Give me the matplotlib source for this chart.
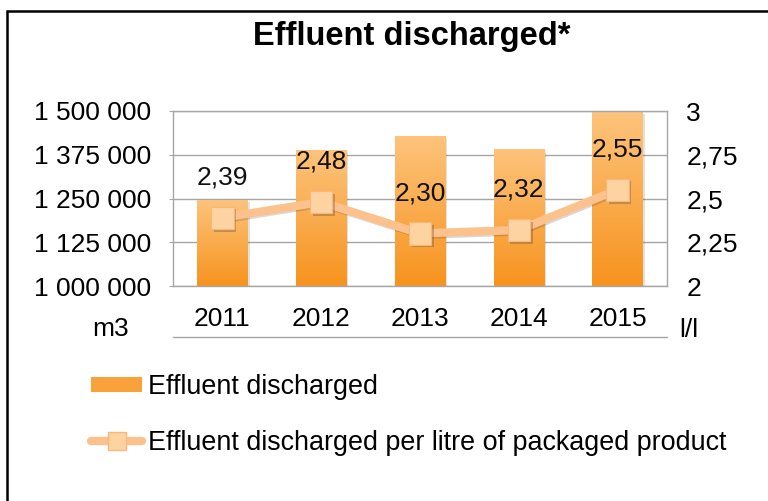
import numpy as np
import matplotlib
matplotlib.use("Agg")
import matplotlib.pyplot as plt
from matplotlib.patches import Patch, Rectangle
from matplotlib.lines import Line2D
from matplotlib.colors import LinearSegmentedColormap
import matplotlib.patheffects as pe

plt.rcParams['font.family'] = ['Liberation Sans', 'DejaVu Sans']

years = ['2011', '2012', '2013', '2014', '2015']
effluent_m3 = [1246000, 1389000, 1429000, 1392000, 1498000]
per_litre = [2.39, 2.48, 2.30, 2.32, 2.55]
per_litre_labels = ['2,39', '2,48', '2,30', '2,32', '2,55']
left_ticks = [1000000, 1125000, 1250000, 1375000, 1500000]
left_tick_labels = ['1 000 000', '1 125 000', '1 250 000', '1 375 000', '1 500 000']
right_ticks = [2, 2.25, 2.5, 2.75, 3]
right_tick_labels = ['2', '2,25', '2,5', '2,75', '3']

W, H = 768, 501
FS = 19
fig = plt.figure(figsize=(W / 100, H / 100), dpi=100)
fig.patch.set_facecolor('white')

# outer border (left and top visible)
fig.patches.append(Rectangle((7 / W, -0.5), 2.0, 1.5 - 11 / H, transform=fig.transFigure,
                             fill=False, edgecolor='black', linewidth=1.8))

ax = fig.add_axes([173 / W, 1 - 286 / H, (667 - 173) / W, (286 - 111) / H])
x = np.arange(len(years))

grid_c = '#a6a6a6'
ax.set_ylim(1000000, 1500000)
ax.set_xlim(-0.5, len(years) - 0.5)
ax.set_yticks(left_ticks)
ax.set_yticklabels(left_tick_labels, fontsize=FS)
ax.set_xticks(x)
ax.set_xticklabels(years, fontsize=FS)
ax.tick_params(axis='x', length=0, pad=15)
ax.tick_params(axis='y', length=3, color=grid_c, pad=13)
ax.yaxis.grid(True, color=grid_c, linewidth=1.0)
ax.set_axisbelow(True)
for s in ['left', 'right', 'top', 'bottom']:
    ax.spines[s].set_color(grid_c)
    ax.spines[s].set_linewidth(1.0)

bars = ax.bar(x, effluent_m3, width=0.51, color='#f9a13a', zorder=2, linewidth=0)
cmap = LinearSegmentedColormap.from_list('og', ['#f7931e', '#fdc47c'])
grad = np.linspace(0, 1, 256).reshape(-1, 1)
for b in bars:
    b.set_path_effects([pe.SimplePatchShadow(offset=(1.5, -1.5), alpha=0.15), pe.Normal()])
    im = ax.imshow(grad, cmap=cmap, origin='lower', aspect='auto',
                   extent=[b.get_x(), b.get_x() + b.get_width(), ax.get_ylim()[0], b.get_height()],
                   zorder=2.5)
    im.set_clip_path(b)
ax.set_xlim(-0.5, len(years) - 0.5)
ax.set_ylim(1000000, 1500000)

ax2 = ax.twinx()
ax2.set_ylim(2, 3)
ax2.set_yticks(right_ticks)
ax2.set_yticklabels(right_tick_labels, fontsize=FS)
ax2.tick_params(axis='y', length=0, pad=14)
for s in ['left', 'right', 'top', 'bottom']:
    ax2.spines[s].set_visible(False)

line_c = '#fbc28d'
ax2.plot(x, per_litre, color=line_c, linewidth=6, zorder=3, solid_capstyle='round',
         path_effects=[pe.SimpleLineShadow(offset=(1, -1), alpha=0.15), pe.Normal()])
ax2.plot(x, per_litre, linestyle='none', marker='s', markersize=16,
         markerfacecolor='#fdd3a2', markeredgecolor='#f6b87c', markeredgewidth=0.8, zorder=4,
         path_effects=[pe.SimplePatchShadow(offset=(2, -2), alpha=0.3), pe.Normal()])
for xi, v, lab in zip(x, per_litre, per_litre_labels):
    ax2.annotate(lab, (xi, v), xytext=(0, 29), textcoords='offset points',
                 ha='center', va='center', fontsize=FS, color='#111111', zorder=5)

# axis unit labels and bottom rule
fig.text(111 / W, 1 - 329 / H, 'm3', ha='center', va='center', fontsize=FS)
fig.text(689 / W, 1 - 330 / H, 'l/l', ha='center', va='center', fontsize=FS)
fig.add_artist(Line2D([173 / W, 667 / W], [1 - 337 / H, 1 - 337 / H], transform=fig.transFigure,
                      color=grid_c, linewidth=1.0))

fig.text(412 / W, 1 - 37 / H, 'Effluent discharged*', ha='center', va='center',
         fontsize=23.5, fontweight='bold')

handles = [Patch(facecolor='#f9a23c', edgecolor='none'),
           Line2D([0], [0], color=line_c, linewidth=6, marker='s', markersize=12.5,
                  markerfacecolor='#fdd3a2', markeredgecolor='#f6b87c', solid_capstyle='round')]
fig.legend(handles, ['Effluent discharged', 'Effluent discharged per litre of packaged product'],
           loc='upper left', bbox_to_anchor=(91 / W, 1 - 374 / H), frameon=False,
           fontsize=19.4, handlelength=1.9, handleheight=0.45, handletextpad=0.2,
           labelspacing=1.1, borderaxespad=0, borderpad=0)

fig.savefig('out.png', dpi=100, facecolor='white')
